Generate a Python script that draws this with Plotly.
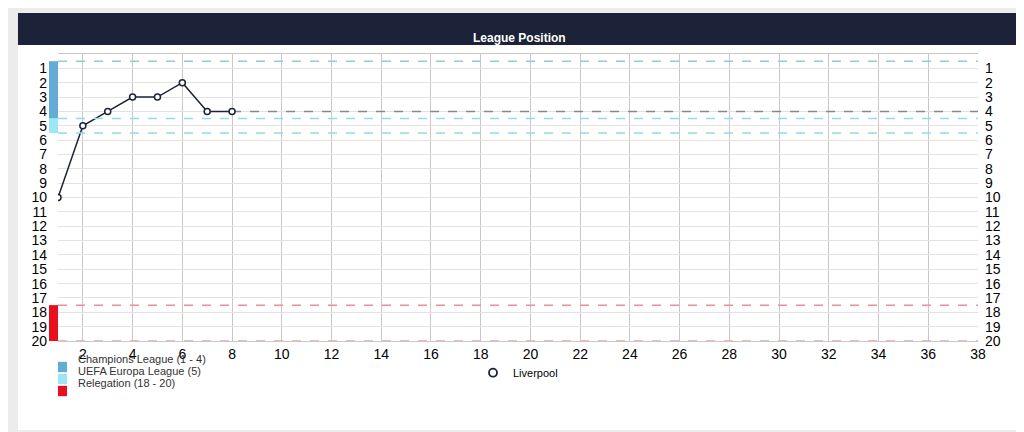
import plotly.graph_objects as go

matchdays = [1, 2, 3, 4, 5, 6, 7, 8]
positions = [10, 5, 4, 3, 3, 2, 4, 4]
last_pos = 4
total_matchdays = 38
zones = [("Champions League (1 - 4)", "#64acd6", 0.5, 4.5),
         ("UEFA Europa League (5)", "#9de6f7", 4.5, 5.5),
         ("Relegation (18 - 20)", "#e8101c", 17.5, 20)]

fig = go.Figure()

# projected line from last played matchday
fig.add_trace(go.Scatter(x=[matchdays[-1], total_matchdays], y=[last_pos, last_pos], mode="lines",
                         line=dict(color="#888", width=1.5, dash="dash"), showlegend=False, hoverinfo="skip"))
fig.add_trace(go.Scatter(x=matchdays, y=positions, mode="lines+markers", name="Liverpool",
                         line=dict(color="#1c2237", width=1.5), showlegend=False,
                         marker=dict(size=6, color="white", line=dict(color="#1c2237", width=1.5))))
# legend entry: marker only
fig.add_trace(go.Scatter(x=[None], y=[None], mode="markers", name="Liverpool",
                         marker=dict(size=8, color="white", line=dict(color="#1c2237", width=1.8))))
# dummy trace to show right-hand tick labels
fig.add_trace(go.Scatter(x=[1], y=[1], yaxis="y2", mode="markers", marker=dict(opacity=0),
                         showlegend=False, hoverinfo="skip"))

shapes = [
    # card and header
    dict(type="rect", xref="paper", yref="paper", x0=-0.0435, x1=1.049, y0=-0.31, y1=1.143,
         fillcolor="white", line=dict(width=0), layer="below"),
    dict(type="rect", xref="paper", yref="paper", x0=-0.0435, x1=1.049, y0=1.031, y1=1.143,
         fillcolor="#1c2237", line=dict(width=0), layer="below"),
]
annotations = [dict(text="<b>League Position</b>", xref="paper", yref="paper", x=0.502, y=1.087,
                    showarrow=False, font=dict(color="white", size=12))]
for i, (name, col, lo, hi) in enumerate(zones):
    shapes.append(dict(type="rect", xref="paper", yref="y", x0=-0.0098, x1=0, y0=lo, y1=hi,
                       fillcolor=col, line=dict(width=0)))
    # zone legend (left, below the axis)
    yc = (333 - (359 + 12 * i)) / 287
    shapes.append(dict(type="rect", xref="paper", yref="paper", x0=0.0, x1=0.0098,
                       y0=yc - 0.018, y1=yc + 0.018, fillcolor=col, line=dict(width=0)))
    annotations.append(dict(text=name, xref="paper", yref="paper", x=0.02, y=yc, xanchor="left",
                            showarrow=False, font=dict(size=11, color="#333")))
for yv, col in [(0.5, "#8fcbe0"), (4.5, "#8fdcef"), (5.5, "#8fdcef"), (17.5, "#e8909a"), (20, "#e8a0a8")]:
    shapes.append(dict(type="line", xref="paper", yref="y", x0=0, x1=1, y0=yv, y1=yv,
                       line=dict(color=col, width=1.5, dash="dash")))

fig.update_layout(
    width=1024, height=432,
    margin=dict(l=50, r=54, t=46, b=99, autoexpand=False),
    paper_bgcolor="#ececec", plot_bgcolor="white",
    font=dict(family="Liberation Sans, Arial", color="black", size=14),
    shapes=shapes,
    annotations=annotations,
    xaxis=dict(range=[1, total_matchdays], tickvals=list(range(2, 39, 2)), showgrid=True,
               gridcolor="#c8c8c8", zeroline=False, showline=True, linecolor="#c8c8c8", mirror=True,
               ticks="", tickfont=dict(size=14), automargin=False),
    yaxis=dict(range=[20, 0], tickvals=list(range(1, 21)), showgrid=True, gridcolor="#e2e2e2",
               zeroline=False, ticks="", tickfont=dict(size=14), automargin=False, ticklabelstandoff=10),
    yaxis2=dict(range=[20, 0], tickvals=list(range(1, 21)), overlaying="y", side="right",
                showgrid=False, zeroline=False, tickfont=dict(size=14), automargin=False,
                ticklabelstandoff=6),
    legend=dict(x=0.5, xanchor="center", y=-0.06, yanchor="top", bgcolor="rgba(0,0,0,0)",
                font=dict(size=11), itemwidth=30),
)

fig.write_html("out.html")
